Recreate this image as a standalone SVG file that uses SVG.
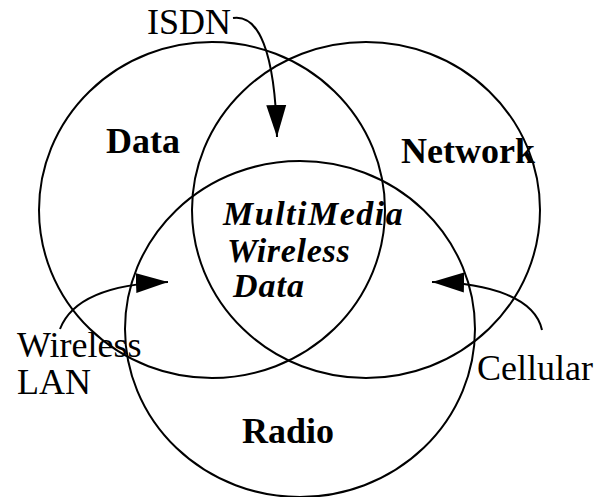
<svg xmlns="http://www.w3.org/2000/svg" width="604" height="497" viewBox="0 0 604 497">
<style>
.c{fill:none;stroke:#000;stroke-width:2}
.t{font-family:"Liberation Serif","Times New Roman",serif;font-size:36px;fill:#000}
.b{font-weight:bold}
.bi{font-weight:bold;font-style:italic;font-size:34px}
.a{fill:none;stroke:#000;stroke-width:2}
</style>
<defs>
<marker id="ah" markerUnits="userSpaceOnUse" markerWidth="34" markerHeight="22" refX="32" refY="10" orient="auto" viewBox="0 0 34 20">
<path d="M0,0 L32,10 L0,20 z" fill="#000"/>
</marker>
</defs>
<rect width="604" height="497" fill="#fff"/>
<g id="data">
<ellipse class="c" cx="212" cy="210" rx="173" ry="168"/>
<text class="t b" x="106" y="153">Data</text>
</g>
<g id="network">
<ellipse class="c" cx="366" cy="210" rx="174" ry="168"/>
<text class="t b" x="401" y="163">Network</text>
</g>
<g id="radio">
<ellipse class="c" cx="300" cy="329" rx="175" ry="168"/>
<text class="t b" x="242" y="443">Radio</text>
</g>
<g id="center">
<text class="t bi" x="223" y="225" letter-spacing="1.5">MultiMedia</text>
<text class="t bi" x="227" y="262" letter-spacing="0.7">Wireless</text>
<text class="t bi" x="233" y="297" letter-spacing="1">Data</text>
</g>
<g id="isdn"><text class="t" x="147" y="34">ISDN</text></g>
<g id="wlan"><text class="t" x="17" y="357">Wireless</text><text class="t" x="17" y="394">LAN</text></g>
<g id="cellular"><text class="t" x="477" y="380">Cellular</text></g>
<g id="connectors">
<path class="a" marker-end="url(#ah)" d="M233,18 C258,14 275,50 277,137"/>
<path class="a" marker-end="url(#ah)" d="M60,329 C72,298 110,284 168,282"/>
<path class="a" marker-end="url(#ah)" d="M542,330 C535,298 490,283 432,282"/>
</g>
</svg>
